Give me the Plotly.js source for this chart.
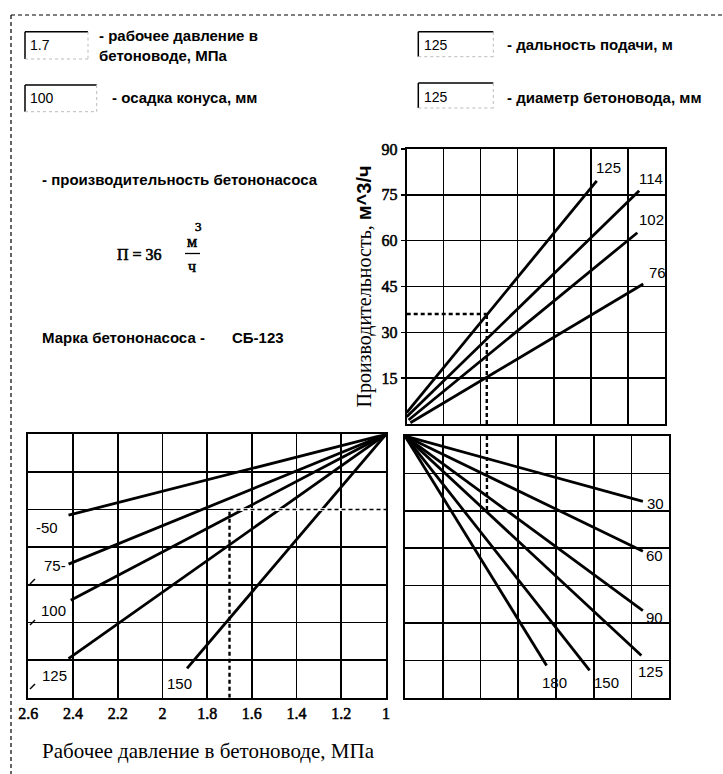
<!DOCTYPE html>
<html><head><meta charset="utf-8">
<script src="https://cdn.plot.ly/plotly-3.0.1.min.js"></script>
<style>
html,body{margin:0;padding:0;background:#fff}
.xtick text, .x2tick text, .ytick text { stroke:#000; stroke-width:0.55px; }
</style>
</head><body><div id="chart" style="width:723px;height:774px"></div>
<script>
// ---------- DATA ----------
// top-right: productivity vs. intermediate scale, one line per pipe diameter (mm)
const diameterLabels = ['125', '114', '102', '76'];
const diamX0 = [0, 0, 0.05, 0.1];
const diamY0 = [3.7, 2.4, 1.3, 0.4];
const diamX1 = [5.15, 6.30, 6.25, 6.41];
const diamY1 = [79.6, 76.3, 62.6, 45.8];

// lower-left: working pressure (MPa) vs. row scale, one line per cone slump (mm)
const slumpLabels = ['50', '75', '100', '125', '150'];
const slumpP0 = [1, 1, 1, 1, 1];
const slumpR0 = [0, 0, 0, 0, 0];
const slumpP1 = [2.42, 2.42, 2.41, 2.42, 1.89];
const slumpR1 = [2.15, 3.45, 4.41, 5.96, 6.22];

// lower-right: one line per delivery distance (m)
const lengthLabels = ['30', '60', '90', '125', '150', '180'];
const lenX0 = [0, 0, 0, 0, 0, 0];
const lenR0 = [0, 0, 0, 0, 0, 0];
const lenX1 = [6.30, 6.30, 6.30, 6.26, 4.89, 3.75];
const lenR1 = [1.75, 3.08, 4.67, 5.87, 6.27, 6.14];

const pressureTicks = [2.6, 2.4, 2.2, 2, 1.8, 1.6, 1.4, 1.2, 1];
const pressureTickText = ['2.6', '2.4', '2.2', '2', '1.8', '1.6', '1.4', '1.2', '1'];
const outputTicks = [15, 30, 45, 60, 75, 90];
const outputTickText = ['15', '30', '45', '60', '75', '90'];

// inputs / result
const inputPressure = '1.7', inputSlump = '100', inputLength = '125', inputDiameter = '125';
const resultValue = 36;
const pumpModel = 'СБ-123';
// reading path of the example
const pathPressure = 1.7;
const pathRow = 2;
const pathCol = 2.17;

// ---------- LAYOUT HELPERS ----------
const W = 723, H = 774;
const px = x => x / W, py = y => 1 - y / H;
const black = '#000';
const traces = [];
const ann = [];
const shapes = [];

function line(x, y, xa, ya, opts) {
  traces.push(Object.assign({x, y, xaxis: xa, yaxis: ya, mode: 'lines', hoverinfo: 'skip',
    line: {color: black, width: 2.8}}, opts || {}));
}
const lblFont = {family: 'Liberation Sans, Arial', size: 15, color: black};

// top-right lines
const trShift = [[12, 13], [12, 12], [14, 13], [14, 12]];
diameterLabels.forEach((lab, i) => {
  line([diamX0[i], diamX1[i]], [diamY0[i], diamY1[i]], 'x', 'y');
  ann.push({x: diamX1[i], y: diamY1[i], xref: 'x', yref: 'y', text: lab, showarrow: false,
    xshift: trShift[i][0], yshift: trShift[i][1], font: lblFont});
});
// lower-left lines
const llShift = [[-22, -12], [-14, -1], [-17, -10], [-14, -17], [-8, -15]];
const llText = ['-50', '75-', '100', '125', '150'];
slumpLabels.forEach((lab, i) => {
  line([slumpP0[i], slumpP1[i]], [slumpR0[i], slumpR1[i]], 'x2', 'y2');
  ann.push({x: slumpP1[i], y: slumpR1[i], xref: 'x2', yref: 'y2', text: llText[i], showarrow: false,
    xshift: llShift[i][0], yshift: llShift[i][1], font: lblFont});
});
// lower-right lines
const lrShift = [[13, -2], [12, -4], [12, -7], [9, -16], [17, -12], [8, -17]];
lengthLabels.forEach((lab, i) => {
  line([lenX0[i], lenX1[i]], [lenR0[i], lenR1[i]], 'x3', 'y3');
  ann.push({x: lenX1[i], y: lenR1[i], xref: 'x3', yref: 'y3', text: lab, showarrow: false,
    xshift: lrShift[i][0], yshift: lrShift[i][1], font: lblFont});
});

// example reading path (dashed)
const dash = {color: black, width: 2.4, dash: '4px,3px'};
line([pathPressure, 1], [pathRow, pathRow], 'x2', 'y2', {line: {color: '#fff', width: 3}});
line([pathPressure, pathPressure], [7, pathRow], 'x2', 'y2', {line: dash});
line([pathPressure, 1], [pathRow, pathRow], 'x2', 'y2', {line: {color: black, width: 1.6, dash: '4px,3px'}});
line([0, pathCol], [pathRow, pathRow], 'x3', 'y3', {line: {color: black, width: 1.6, dash: '4px,3px'}});
line([pathCol, pathCol], [0, pathRow], 'x3', 'y3', {line: dash});
line([pathCol, pathCol], [0, resultValue], 'x', 'y', {line: dash});
line([0, pathCol], [resultValue, resultValue], 'x', 'y', {line: dash});

// ---------- AXES ----------
const tickSerif = {family: 'Liberation Serif, Times New Roman', size: 16, color: black};
const gridCommon = {showgrid: true, gridcolor: black, gridwidth: 1.6, zeroline: false,
  showline: true, linecolor: black, linewidth: 2, mirror: true, fixedrange: true};
const layout = {
  width: W, height: H, margin: {l: 0, r: 0, t: 0, b: 0},
  paper_bgcolor: '#fff', plot_bgcolor: '#fff', showlegend: false,
  xaxis: Object.assign({}, gridCommon, {domain: [px(406.7), px(665)], range: [0, 7], dtick: 1, showticklabels: false, anchor: 'y'}),
  yaxis: Object.assign({}, gridCommon, {domain: [py(424), py(149)], range: [0, 90], tickvals: outputTicks, ticktext: outputTickText,
    ticks: 'outside', ticklen: 4, tickwidth: 1.5, tickcolor: black, anchor: 'x', tickfont: tickSerif,
    title: {text: 'Производительность, <span style="font-family:Liberation Sans;font-weight:bold">м^3/ч</span>', standoff: 5,
      font: {family: 'Liberation Serif, Times New Roman', size: 20, color: black}}}),
  xaxis2: Object.assign({}, gridCommon, {domain: [px(28.3), px(386)], range: [2.6, 1], tickvals: pressureTicks, ticktext: pressureTickText,
    ticks: '', anchor: 'y2', tickfont: tickSerif}),
  yaxis2: Object.assign({}, gridCommon, {domain: [py(697.7), py(434.3)], range: [7, 0], dtick: 1, showticklabels: false, anchor: 'x2'}),
  xaxis3: Object.assign({}, gridCommon, {domain: [px(405), px(669.3)], range: [0, 7], dtick: 1, showticklabels: false, anchor: 'y3'}),
  yaxis3: Object.assign({}, gridCommon, {domain: [py(697.7), py(436)], range: [7, 0], dtick: 1, showticklabels: false, anchor: 'x3'}),
  annotations: ann, shapes: shapes
};

// ---------- TEXT & DECORATION ----------
const sans = {family: 'Liberation Sans, Arial', size: 14, color: black};
const sansB = {family: 'Liberation Sans, Arial', size: 15, color: black, weight: 'bold'};
const serif = {family: 'Liberation Serif, Times New Roman', size: 16, color: black};
function txt(x, y, text, font, xanchor) {
  ann.push({xref: 'paper', yref: 'paper', x: px(x), y: py(y), text, font, showarrow: false,
    xanchor: xanchor || 'left', yanchor: 'middle'});
}
function seg(x0, y0, x1, y1, w, c, d) {
  shapes.push({type: 'line', xref: 'paper', yref: 'paper', x0: px(x0), y0: py(y0), x1: px(x1), y1: py(y1),
    line: {color: c || black, width: w || 1.5, dash: d || 'solid'}});
}
function box(x0, y0, x1, y1) {
  seg(x0, y0, x1, y0, 1.5);
  seg(x0, y0, x0, y1, 1.5);
  seg(x0, y1, x1, y1, 1, '#bbb', 'dot');
  seg(x1, y0, x1, y1, 1, '#bbb', 'dot');
}
// dashed frame
seg(11, 15, 723, 15, 1.2, black, '4px,3px');
seg(11, 15, 11, 774, 1.2, black, '4px,3px');
// small leader marks at the slump labels
seg(30, 584, 35, 579, 1.5);
seg(30, 625, 35, 620, 1.5);
seg(30, 689, 35, 684, 1.5);

box(25, 31.7, 88, 59);
txt(28, 45, inputPressure, sans);
txt(97, 35, '- рабочее давление в', sansB);
txt(97, 55, 'бетоноводе, МПа', sansB);
box(25, 85, 96.7, 111.7);
txt(28, 98, inputSlump, sans);
txt(110, 98, '- осадка конуса, мм', sansB);
box(418.3, 31.7, 493.3, 56.7);
txt(421.7, 45, inputLength, sans);
txt(505, 45, '- дальность подачи, м', sansB);
box(418.3, 83, 493.3, 108);
txt(421.7, 97, inputDiameter, sans);
txt(505, 97, '- диаметр бетоновода, мм', sansB);

txt(40, 180, '- производительность бетононасоса', sansB);
const fr = {family: 'Liberation Serif, Times New Roman', size: 16, color: black};
const bolden = s => '<span style="stroke:#000;stroke-width:0.6px">' + s + '</span>';
txt(115, 255, bolden('П = ' + resultValue), fr);
txt(192, 242, bolden('м'), fr, 'center');
txt(198, 227, bolden('3'), Object.assign({}, fr, {size: 13}), 'center');
txt(192, 267, bolden('ч'), fr, 'center');
seg(185, 253.5, 200, 253.5, 1.3);
txt(40, 337, 'Марка бетононасоса -', sansB);
txt(230, 337, pumpModel, sansB);
txt(40, 751, 'Рабочее давление в бетоноводе, МПа', Object.assign({}, serif, {size: 21}));

Plotly.newPlot('chart', traces, layout, {staticPlot: true, displayModeBar: false});
</script></body></html>
